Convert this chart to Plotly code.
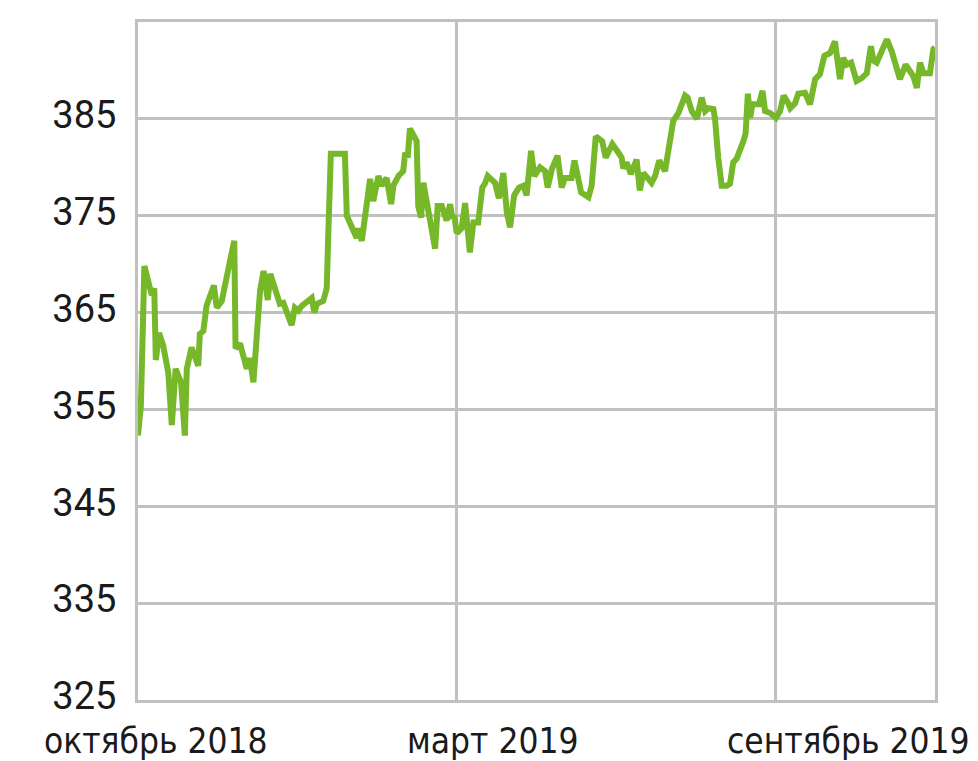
import plotly.graph_objects as go

# trading-day index (0..250) and value
day_index = [
    0.0, 0.9, 2.0, 3.8, 4.3, 5.1, 5.6, 6.6, 7.9, 9.5, 10.6, 11.8, 13.5, 14.7, 15.3,
    16.8, 18.9, 19.4, 20.5, 21.5, 23.8, 24.7, 26.3, 28.9, 30.2, 30.6, 32.0, 34.1,
    35.1, 36.2, 38.3, 39.4, 40.7, 41.5, 44.5, 45.6, 48.2, 49.2, 50.3, 51.4, 54.5,
    55.3, 56.1, 58.1, 59.2, 59.7, 60.5, 64.9, 65.5, 68.6, 69.1, 70.2, 71.7, 72.8,
    73.8, 75.4, 76.4, 78.0, 79.4, 80.1, 81.7, 83.2, 83.8, 84.6, 85.3, 87.4, 87.9,
    88.8, 89.5, 90.6, 92.1, 93.2, 94.0, 95.3, 96.8, 97.9, 98.6, 99.2, 100.0, 101.5,
    102.6, 104.1, 105.2, 106.7, 108.0, 108.8, 109.7, 112.0, 113.2, 114.6, 115.7,
    116.7, 118.0, 119.5, 120.9, 121.9, 123.3, 124.3, 126.1, 127.7, 128.5, 129.8,
    131.6, 132.9, 133.9, 136.0, 136.9, 138.1, 139.0, 141.3, 142.3, 143.6, 145.6,
    146.7, 148.8, 150.7, 151.7, 152.2, 153.3, 154.6, 156.4, 157.4, 158.5, 160.1,
    161.1, 162.2, 163.5, 165.3, 166.3, 167.4, 167.9, 169.5, 171.6, 172.4, 173.7,
    175.3, 176.8, 177.9, 178.9, 180.5, 181.0, 182.0, 183.1, 184.7, 185.7, 186.7,
    187.8, 189.9, 190.6, 191.3, 192.0, 192.7, 194.8, 195.9, 196.7, 198.3, 200.1,
    201.4, 202.5, 204.0, 204.6, 206.1, 207.1, 209.2, 210.8, 212.4, 213.9, 215.3,
    217.1, 218.6, 220.2, 221.2, 222.3, 223.7, 225.4, 227.0, 228.6, 229.9, 230.7,
    231.7, 234.9, 236.4, 239.0, 240.8, 243.2, 244.3, 245.3, 246.4, 248.4, 249.5,
    250.0,
]
values = [
    352.3, 355.4, 369.8, 367.6, 366.8, 367.5, 360.1, 362.9, 361.6, 358.8, 353.4, 359.2,
    357.8, 352.3, 359.2, 361.4, 359.5, 362.8, 363.1, 365.7, 367.8, 365.5, 366.2, 370.4,
    372.4, 361.3, 361.8, 359.2, 360.3, 357.8, 367.3, 369.3, 366.3, 369.0, 365.9, 366.0,
    363.7, 365.5, 365.2, 365.7, 366.5, 365.0, 365.9, 366.2, 367.5, 373.2, 381.4, 381.4,
    375.0, 372.7, 373.7, 372.4, 376.8, 378.8, 376.5, 379.1, 378.1, 378.9, 376.2, 378.1,
    379.1, 379.6, 381.5, 381.0, 384.0, 382.7, 376.0, 374.8, 378.4, 376.3, 373.2, 371.6,
    376.0, 376.0, 374.5, 376.2, 374.7, 375.0, 373.2, 373.7, 376.3, 371.2, 374.3, 374.3,
    377.9, 378.3, 379.1, 378.4, 376.8, 379.4, 375.3, 373.8, 377.1, 377.9, 378.1, 377.1,
    381.7, 379.1, 380.0, 379.6, 377.9, 379.8, 381.2, 377.9, 378.9, 378.9, 380.7, 378.6,
    377.4, 376.9, 378.1, 383.2, 382.7, 381.0, 382.4, 381.5, 381.0, 379.9, 380.5, 379.3,
    380.8, 377.6, 379.4, 378.8, 378.4, 379.1, 380.7, 379.6, 381.9, 383.8, 384.8, 385.6,
    387.4, 387.2, 385.8, 385.0, 387.2, 385.8, 386.1, 386.0, 385.0, 381.0, 378.1, 378.1,
    378.3, 380.5, 380.9, 382.7, 383.5, 387.6, 385.1, 386.5, 386.5, 387.9, 385.8, 385.6,
    385.1, 385.8, 387.4, 386.6, 386.1, 386.6, 387.6, 387.7, 386.5, 389.1, 389.6, 391.5,
    391.8, 393.0, 389.1, 391.3, 390.6, 390.8, 388.9, 389.2, 389.7, 392.5, 391.0, 390.8,
    393.2, 392.0, 389.1, 390.6, 389.4, 388.2, 390.8, 389.7, 389.7, 392.2, 392.4,
]

y_ticks = [325, 335, 345, 355, 365, 375, 385]
x_grid = [100, 200]
x_label_pos = [5.6, 111.4, 223.0]
x_labels = ["октябрь 2018", "март 2019", "сентябрь 2019"]

LINE = "#77b82a"
GRID = "#c0c0c0"

fig = go.Figure()
fig.add_trace(go.Scatter(
    x=day_index, y=values, mode="lines",
    line=dict(color=LINE, width=6, shape="linear"),
    hoverinfo="skip", showlegend=False,
))

for pos, txt in zip(x_label_pos, x_labels):
    fig.add_annotation(
        x=pos, xref="x", y=0, yref="paper", yanchor="top", yshift=-19,
        text='<span style="font-stretch:condensed">' + txt + "</span>",
        showarrow=False,
        font=dict(family="DejaVu Sans", size=35, color="#1a1a1a"),
    )

fig.update_layout(
    width=970, height=753,
    margin=dict(l=130, r=43, t=14, b=61),
    paper_bgcolor="white", plot_bgcolor="white",
    xaxis=dict(
        range=[0, 250], tickvals=x_grid, showticklabels=False,
        showgrid=True, gridcolor=GRID, gridwidth=3,
        showline=True, linecolor=GRID, linewidth=3, mirror=True,
        zeroline=False, ticks="",
    ),
    yaxis=dict(
        range=[325, 395], tickvals=y_ticks, ticktext=[str(v) for v in y_ticks],
        showgrid=True, gridcolor=GRID, gridwidth=3,
        showline=True, linecolor=GRID, linewidth=3, mirror=True,
        zeroline=False, ticks="", ticklabelstandoff=11, ticklabelshift=-4,
        tickfont=dict(family="Roboto", size=38, color="#1a1a1a"),
    ),
)

fig.write_html("out.html")
